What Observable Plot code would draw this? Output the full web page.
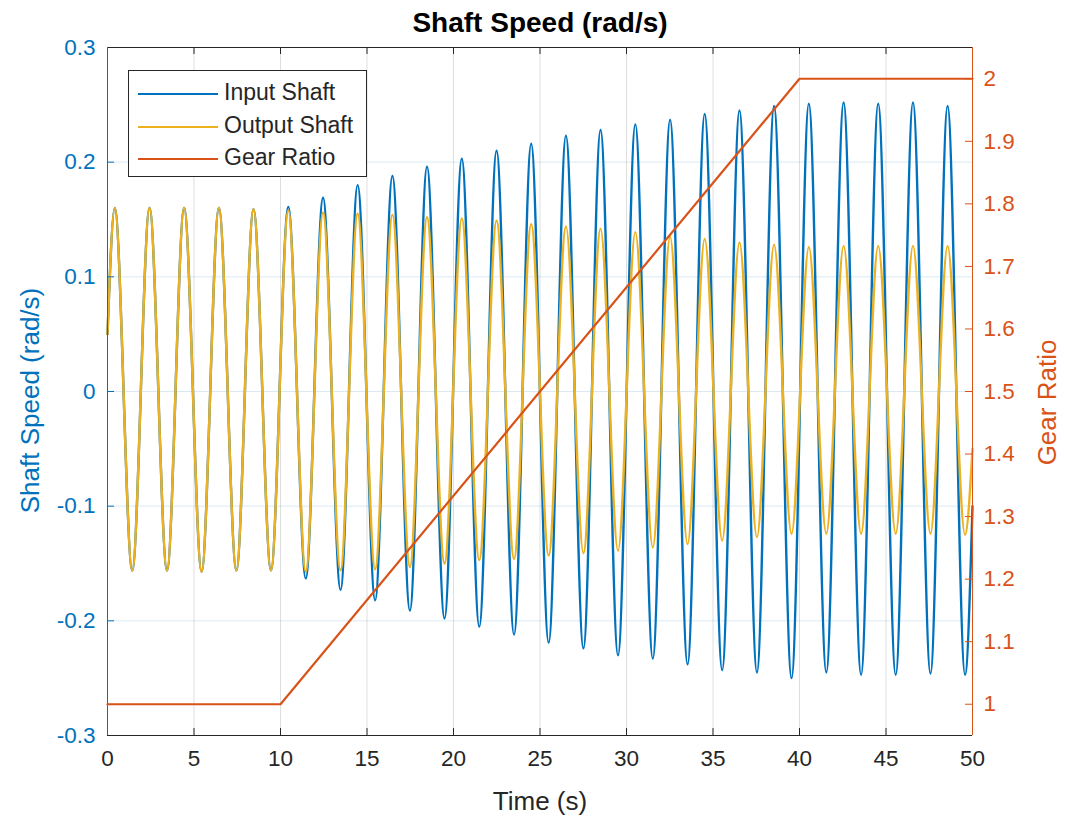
<!DOCTYPE html>
<html><head><meta charset="utf-8">
<script src="https://cdn.jsdelivr.net/npm/d3@7"></script>
<script src="https://cdn.jsdelivr.net/npm/@observablehq/plot@0.6"></script>
<style>
body{margin:0;background:#fff;}
#wrap{position:relative;width:1066px;height:825px;overflow:hidden;font-family:Helvetica,"Liberation Sans",Arial,sans-serif;}
#wrap svg{position:absolute;left:0;top:0;}
#legend{position:absolute;left:128px;top:70px;width:237px;height:105px;border:1px solid #262626;background:#fff;}
.lrow{position:absolute;left:0;height:0;}
.lline{position:absolute;left:9px;width:80px;height:0;border-top:2px solid;}
.ltext{position:absolute;left:95px;top:-14px;font-size:23px;line-height:27px;color:#262626;white-space:nowrap;}
</style></head><body><div id="wrap"></div>
<script>
// Extremes (peaks / troughs) of the sinusoidal shaft speeds
const time = [0, 0.42, 1.43, 2.43, 3.44, 4.43, 5.44, 6.44, 7.45, 8.44, 9.45, 10.45, 11.46, 12.46, 13.47, 14.46, 15.47, 16.47, 17.48, 18.47, 19.48, 20.48, 21.49, 22.49, 23.50, 24.49, 25.50, 26.50, 27.51, 28.50, 29.51, 30.51, 31.52, 32.52, 33.53, 34.52, 35.53, 36.53, 37.54, 38.53, 39.54, 40.54, 41.55, 42.55, 43.56, 44.55, 45.56, 46.56, 47.57, 48.56, 49.57, 50];
const inputShaft = [0.05, 0.160, -0.156, 0.160, -0.156, 0.160, -0.157, 0.160, -0.156, 0.159, -0.156, 0.161, -0.163, 0.169, -0.173, 0.180, -0.182, 0.188, -0.191, 0.196, -0.198, 0.203, -0.205, 0.210, -0.212, 0.216, -0.219, 0.223, -0.224, 0.228, -0.230, 0.233, -0.233, 0.237, -0.238, 0.242, -0.243, 0.245, -0.245, 0.249, -0.250, 0.251, -0.245, 0.252, -0.247, 0.251, -0.247, 0.252, -0.246, 0.249, -0.247, -0.10];
const outputShaft = [0.05, 0.160, -0.156, 0.160, -0.156, 0.160, -0.157, 0.160, -0.156, 0.159, -0.156, 0.158, -0.157, 0.156, -0.156, 0.155, -0.155, 0.154, -0.153, 0.152, -0.150, 0.151, -0.147, 0.149, -0.146, 0.146, -0.143, 0.144, -0.141, 0.142, -0.139, 0.139, -0.136, 0.135, -0.133, 0.133, -0.130, 0.130, -0.127, 0.128, -0.124, 0.126, -0.124, 0.127, -0.124, 0.127, -0.124, 0.127, -0.124, 0.127, -0.125, -0.05];
const gearTime = [0, 10, 40, 50];
const gearRatio = [1, 1, 2, 2];
const xTicks = [0, 5, 10, 15, 20, 25, 30, 35, 40, 45, 50];
const yTicksLeft = [-0.3, -0.2, -0.1, 0, 0.1, 0.2, 0.3];
const yTicksRight = [1, 1.1, 1.2, 1.3, 1.4, 1.5, 1.6, 1.7, 1.8, 1.9, 2];
const seriesNames = ["Input Shaft", "Output Shaft", "Gear Ratio"];
const titleText = "Shaft Speed (rad/s)";
const xLabel = "Time (s)";
const yLabelLeft = "Shaft Speed (rad/s)";
const yLabelRight = "Gear Ratio";

const W = 1066, H = 825, mL = 107, mR = 94, mT = 47, mB = 90;
const fw = W - mL - mR, fh = H - mT - mB;
const blue = "#0072BD", yellow = "#EDB120", orange = "#D95319", dark = "#262626";
const font = 'Helvetica,"Liberation Sans",Arial,sans-serif';
const tickFont = 22.5, labelFont = 26, titleFont = 28;

const rows = time.map((t, i) => ({t, input: inputShaft[i], output: outputShaft[i]}));
const gearRows = gearTime.map((t, i) => ({t, g: gearRatio[i]}));

const p1 = Plot.plot({
  width: W, height: H, marginLeft: mL, marginRight: mR, marginTop: mT, marginBottom: mB,
  style: {fontFamily: font, background: "transparent", overflow: "visible"},
  x: {domain: [0, 50]},
  y: {domain: [-0.3, 0.3]},
  marks: [
    Plot.gridX(xTicks, {stroke: "#000", strokeOpacity: 0.13}),
    Plot.gridY(yTicksLeft, {stroke: blue, strokeOpacity: 0.15}),
    Plot.line(rows, {x: "t", y: "input", stroke: blue, strokeWidth: 2.4, curve: "monotone-x"}),
    Plot.line(rows, {x: "t", y: "output", stroke: yellow, strokeWidth: 2.4, curve: "monotone-x"}),
    Plot.axisX(xTicks, {tickSize: 0, tickPadding: 15, fontSize: tickFont, color: dark, label: null}),
    Plot.axisY(yTicksLeft, {tickSize: 0, tickPadding: 12, fontSize: tickFont, color: blue, label: null, tickFormat: d => String(d)}),
    Plot.tickX(xTicks, {x: d => d, stroke: dark, insetTop: fh - 7}),
    Plot.tickX(xTicks, {x: d => d, stroke: dark, insetBottom: fh - 7}),
    Plot.tickY(yTicksLeft, {y: d => d, stroke: blue, insetRight: fw - 7}),
    Plot.ruleY([0.3], {stroke: dark}),
    Plot.ruleY([-0.3], {stroke: dark}),
    Plot.ruleX([0], {stroke: blue}),
    Plot.text([xLabel], {text: d => d, frameAnchor: "bottom", lineAnchor: "middle", dy: 66, fontSize: labelFont, fill: dark}),
    Plot.text([yLabelLeft], {text: d => d, frameAnchor: "left", textAnchor: "middle", lineAnchor: "middle", rotate: -90, dx: -77, dy: 9, fontSize: labelFont, fill: blue}),
    Plot.text([titleText], {text: d => d, frameAnchor: "top", lineAnchor: "middle", dy: -24, fontSize: titleFont, fontWeight: "bold", fill: "#000"})
  ]
});

const p2 = Plot.plot({
  width: W, height: H, marginLeft: mL, marginRight: mR, marginTop: mT, marginBottom: mB,
  style: {fontFamily: font, background: "transparent", overflow: "visible"},
  x: {domain: [0, 50], axis: null},
  y: {domain: [0.95, 2.05]},
  marks: [
    Plot.line(gearRows, {x: "t", y: "g", stroke: orange, strokeWidth: 2.2}),
    Plot.axisY(yTicksRight, {anchor: "right", tickSize: 0, tickPadding: 11, fontSize: tickFont, color: orange, label: null, tickFormat: d => String(d)}),
    Plot.tickY(yTicksRight, {y: d => d, stroke: orange, insetLeft: fw - 7}),
    Plot.ruleX([50], {stroke: orange}),
    Plot.text([yLabelRight], {text: d => d, frameAnchor: "right", textAnchor: "middle", lineAnchor: "middle", rotate: -90, dx: 75, dy: 11, fontSize: labelFont, fill: orange})
  ]
});

const wrap = document.getElementById("wrap");
wrap.appendChild(p1);
wrap.appendChild(p2);

// Legend
const legend = document.createElement("div");
legend.id = "legend";
const colors = [blue, yellow, orange];
const rowTops = [22, 54.5, 87];
seriesNames.forEach((name, i) => {
  const r = document.createElement("div");
  r.className = "lrow";
  r.style.top = rowTops[i] + "px";
  const l = document.createElement("div");
  l.className = "lline";
  l.style.borderTopColor = colors[i];
  const t = document.createElement("div");
  t.className = "ltext";
  t.textContent = name;
  r.appendChild(l); r.appendChild(t);
  legend.appendChild(r);
});
wrap.appendChild(legend);
</script></body></html>
